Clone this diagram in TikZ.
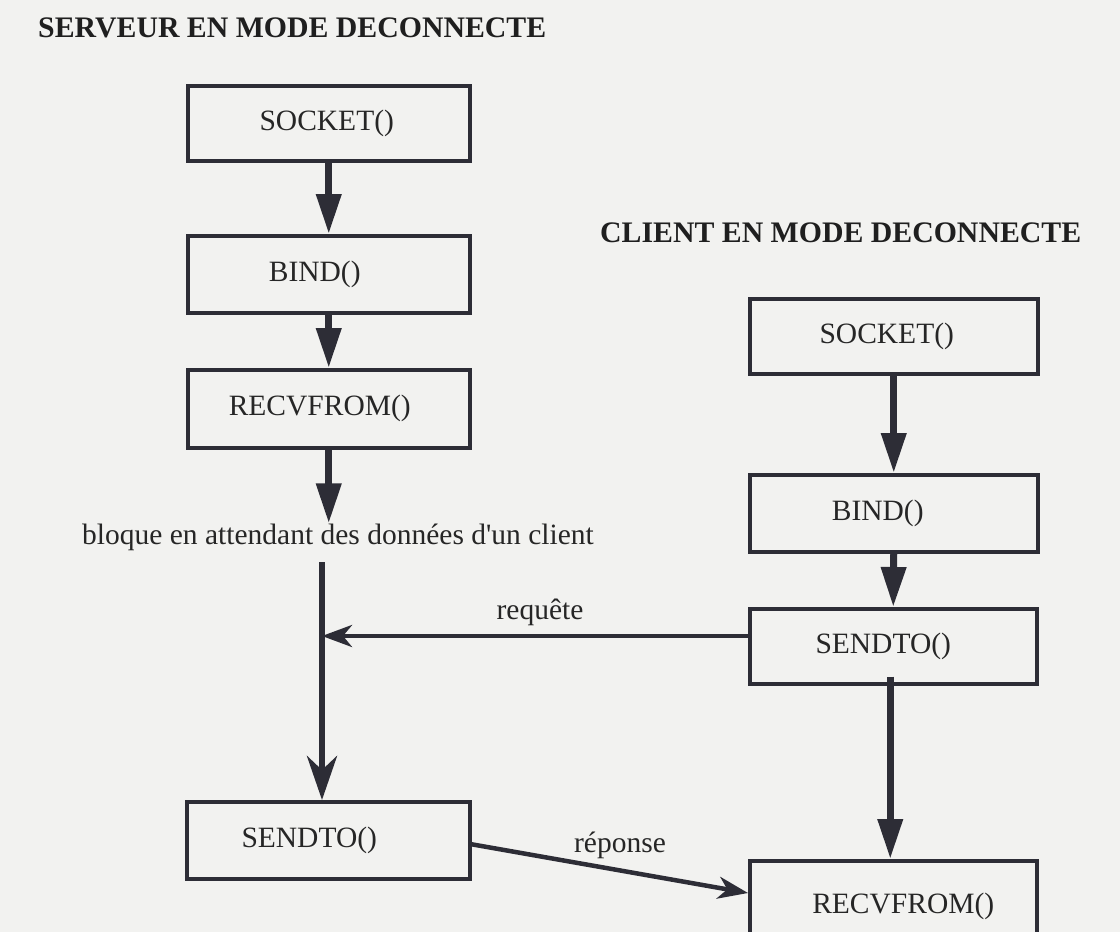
\documentclass[tikz,border=0pt]{standalone}
\usepackage{fontspec}
\setmainfont{Liberation Serif}
\usetikzlibrary{arrows.meta,calc}
\definecolor{ink}{RGB}{45,45,54}
\definecolor{paper}{RGB}{242,242,240}
% pad a box label so it sits left (positive) or right (negative) of the centre
\newcommand{\padr}[2]{#2\hspace*{#1pt}}
\newcommand{\padl}[2]{\hspace*{#1pt}#2}
\begin{document}
\begin{tikzpicture}[x=1pt,y=-1pt,
  box/.style={draw=ink, line width=3.5pt, inner sep=0pt, anchor=north west,
    font=\fontsize{29.5}{34}\selectfont, text=black!85},
  lbl/.style={inner sep=0pt, font=\fontsize{29.5}{34}\selectfont, text=black!85},
  ttl/.style={inner sep=0pt, font=\bfseries\fontsize{29.8}{34}\selectfont, text=black!88},
  flow/.style={draw=ink, line width=7pt, -{Triangle[width=24pt,length=40pt]}},
  flowlong/.style={draw=ink, line width=6pt, -{Stealth[width=30pt,length=44pt,inset=14pt]}},
  msg/.style={draw=ink, line width=4.5pt, -{Stealth[width=22pt,length=30pt,inset=9pt]}}]
\useasboundingbox (0,0) rectangle (1120,932);
\clip (0,0) rectangle (1120,932);
\fill[paper] (0,0) rectangle (1120,932);

% titles
\node[ttl, anchor=west] (tserv) at (38,28) {SERVEUR EN MODE DECONNECTE};
\node[ttl, anchor=west] (tcli) at (600,233) {CLIENT EN MODE DECONNECTE};

% server column
\node[box, minimum width=282pt, minimum height=75pt] (sSock) at (186,84) {\padr{4}{SOCKET()}};
\node[box, minimum width=282pt, minimum height=77pt] (sBind) at (186,234) {\padr{28}{BIND()}};
\node[box, minimum width=282pt, minimum height=78pt] (sRecv) at (186,368) {\padr{18}{RECVFROM()}};
\node[lbl] (wait) at (338,537) {bloque en attendant des données d\textquotesingle un client};
\node[box, minimum width=283pt, minimum height=77pt] (sSend) at (185,800) {\padr{38}{SENDTO()}};

% client column
\node[box, minimum width=288pt, minimum height=75pt] (cSock) at (748,297) {\padr{14}{SOCKET()}};
\node[box, minimum width=288pt, minimum height=77pt] (cBind) at (748,473) {\padr{32}{BIND()}};
\node[box, minimum width=287pt, minimum height=75pt] (cSend) at (748,607) {\padr{20}{SENDTO()}};
\node[box, minimum width=287pt, minimum height=92pt] (cRecv) at (748,859) {\padl{20}{RECVFROM()}};

% where the request meets the server's waiting line
\coordinate (hit) at (322,636);

% server flow
\draw[flow] (sSock.south) -- (sBind.north);
\draw[flow] (sBind.south) -- (sRecv.north);
\draw[flow] (sRecv.south) -- (sRecv.south |- wait.north);
\draw[flowlong] (hit |- 0,562) -- (hit |- sSend.north);

% client flow
\draw[flow] (cSock.south) -- (cBind.north);
\draw[flow] (cBind.south) -- (cSend.north);
\draw[flow] ($(cSend.south)+(-3,-9)$) -- ($(cRecv.north)+(-3,0)$);

% messages
\draw[msg] (cSend.west |- hit) -- (hit);
\node[lbl] (req) at (540,612) {requête};
\draw[msg] ($(sSend.east)+(0,4)$) -- ($(cRecv.north west)+(0,34)$);
\node[lbl] (rep) at (620,845) {réponse};
\end{tikzpicture}
\end{document}
